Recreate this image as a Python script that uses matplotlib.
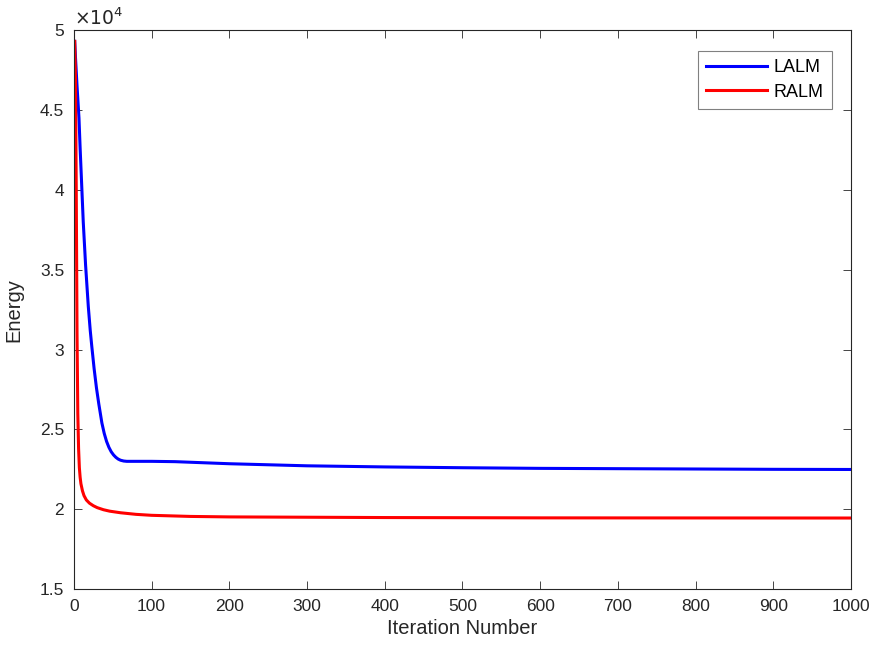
import matplotlib.pyplot as plt
from matplotlib.ticker import FuncFormatter

plt.rcParams['font.family'] = ['Liberation Sans', 'DejaVu Sans']

# Data (energy values)
lalm_iter = [1, 2, 4, 6.5, 8, 10, 12, 15, 18.5, 21, 23, 26, 29, 32, 36, 39, 42, 45, 48,
             51, 54, 57, 60, 64, 68, 100, 130, 200, 300, 400, 500, 600, 700, 800, 900, 1000]
lalm_energy = [49300, 48300, 46500, 44500, 42600, 40300, 38000, 35300, 32700, 31200,
               30200, 28800, 27600, 26600, 25400, 24750, 24250, 23880, 23600,
               23400, 23250, 23140, 23070, 23020, 23000, 23000, 22980, 22850, 22720,
               22650, 22600, 22560, 22540, 22520, 22500, 22490]

ralm_iter = [1, 2, 3, 4, 5, 6, 7, 8, 9, 11, 13, 16, 20, 25, 30, 38, 46, 60, 80, 100,
             150, 200, 400, 600, 1000]
ralm_energy = [49300, 47000, 40000, 31000, 26000, 23800, 22600, 22000, 21600, 21150,
               20850, 20580, 20380, 20220, 20100, 19970, 19880, 19780, 19680, 19620,
               19550, 19520, 19480, 19460, 19450]

fig = plt.figure(figsize=(8.8, 6.56), dpi=100)
ax = fig.add_axes([0.084, 0.102, 0.883, 0.852])

ax.plot(lalm_iter, lalm_energy, color='#0000ff', lw=2.2, label='LALM')
ax.plot(ralm_iter, ralm_energy, color='#ff0000', lw=2.2, label='RALM')

ax.set_xlim(0, 1000)
ax.set_ylim(15000, 50000)
ax.set_xticks(range(0, 1001, 100))
ax.set_yticks([15000, 20000, 25000, 30000, 35000, 40000, 45000, 50000])
ax.yaxis.set_major_formatter(FuncFormatter(lambda v, p: '%g' % (v / 1e4)))

c = '#262626'
for s in ax.spines.values():
    s.set_color(c)
    s.set_linewidth(0.8)
ax.tick_params(direction='in', length=6, width=0.6, top=True, right=True,
               colors=c, labelsize=12.5, pad=7)
ax.set_xlabel('Iteration Number', fontsize=14.5, color=c, labelpad=4)
ax.set_ylabel('Energy', fontsize=14.5, color=c, labelpad=12)
ax.text(0, 1.002, r'$\times10^{4}$', transform=ax.transAxes, fontsize=13.5,
        color=c, ha='left', va='bottom')

leg = ax.legend(loc='upper right', bbox_to_anchor=(0.982, 0.972), fontsize=13,
                fancybox=False, framealpha=1, edgecolor='#808080',
                handlelength=3.4, handletextpad=0.35, borderpad=0.45,
                labelspacing=0.4, borderaxespad=0.3)
leg.get_frame().set_linewidth(0.8)

plt.savefig('out.png')
